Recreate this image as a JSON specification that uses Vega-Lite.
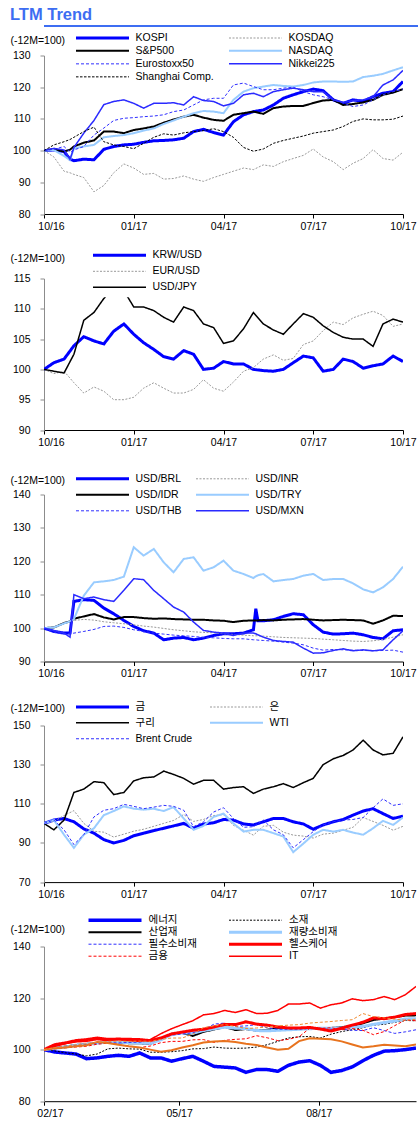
{
"$schema":"https://vega.github.io/schema/vega-lite/v6.json",
"background":"white",
"padding":{"left":10,"top":6,"right":0,"bottom":0},
"title":{"text":"LTM Trend","anchor":"start","color":"#3d6df2","font":"Liberation Sans","fontSize":16.5,"fontWeight":"bold","offset":2},
"config":{
"font":"Liberation Sans",
"view":{"stroke":null},
"axis":{"grid":false,"labelFont":"Liberation Sans","labelFontSize":10.5,"labelColor":"#000000","tickSize":4,"titleFont":"Liberation Sans","titleFontSize":10.5,"titleFontWeight":"normal","titleColor":"#000000"},
"axisX":{"domainColor":"#000000","tickColor":"#000000","labelPadding":3,"labelOverlap":false,"labelFlush":false},
"axisY":{"domainColor":"#8c8c8c","tickColor":"#8c8c8c","labelPadding":10,"titleAngle":0,"titleAlign":"left","titleBaseline":"middle","titleX":-34},
"legend":{"orient":"none","symbolType":"stroke","symbolSize":2809,"labelFont":"Liberation Sans, Noto Sans CJK KR","labelFontSize":10.5,"labelColor":"#000000","labelOffset":5,"rowPadding":0,"padding":0,"labelLimit":300}
},
"datasets":{
"p1":[
{"m":0,"KOSPI":100,"KOSDAQ":100,"S&P500":100,"NASDAQ":100,"Eurostoxx50":100,"Nikkei225":100,"Shanghai Comp":100},
{"m":0.33,"KOSPI":100.2,"KOSDAQ":98,"S&P500":100.4,"NASDAQ":100.2,"Eurostoxx50":100.4,"Nikkei225":100.7,"Shanghai Comp":101.8},
{"m":0.67,"KOSPI":99.7,"KOSDAQ":93.5,"S&P500":99.7,"NASDAQ":98.3,"Eurostoxx50":101.3,"Nikkei225":100.2,"Shanghai Comp":102.8},
{"m":0.87,"KOSPI":97.3,"KOSDAQ":93,"S&P500":100.3,"NASDAQ":97,"Eurostoxx50":99.5,"Nikkei225":97.2,"Shanghai Comp":103.5},
{"m":1,"KOSPI":96.8,"KOSDAQ":92.5,"S&P500":101.3,"NASDAQ":100.7,"Eurostoxx50":100.2,"Nikkei225":101,"Shanghai Comp":104.2},
{"m":1.33,"KOSPI":97.3,"KOSDAQ":91.5,"S&P500":102.5,"NASDAQ":101.3,"Eurostoxx50":101.3,"Nikkei225":105.5,"Shanghai Comp":106},
{"m":1.67,"KOSPI":97.1,"KOSDAQ":87,"S&P500":103.2,"NASDAQ":101.8,"Eurostoxx50":104.9,"Nikkei225":109.5,"Shanghai Comp":107.4},
{"m":2,"KOSPI":100.4,"KOSDAQ":89,"S&P500":106,"NASDAQ":104.2,"Eurostoxx50":107.1,"Nikkei225":114.5,"Shanghai Comp":102.8},
{"m":2.33,"KOSPI":101.3,"KOSDAQ":93,"S&P500":106,"NASDAQ":104.6,"Eurostoxx50":109.5,"Nikkei225":115.5,"Shanghai Comp":101.8},
{"m":2.67,"KOSPI":101.8,"KOSDAQ":95.8,"S&P500":105.5,"NASDAQ":104.9,"Eurostoxx50":110.2,"Nikkei225":116,"Shanghai Comp":101.3},
{"m":3,"KOSPI":102,"KOSDAQ":94.5,"S&P500":106.5,"NASDAQ":105.5,"Eurostoxx50":110.4,"Nikkei225":114.9,"Shanghai Comp":100.6},
{"m":3.33,"KOSPI":102.6,"KOSDAQ":92.5,"S&P500":107,"NASDAQ":106.3,"Eurostoxx50":110.7,"Nikkei225":113.4,"Shanghai Comp":102.3},
{"m":3.67,"KOSPI":103.1,"KOSDAQ":92.8,"S&P500":107.6,"NASDAQ":107,"Eurostoxx50":110.9,"Nikkei225":114.9,"Shanghai Comp":104.2},
{"m":4,"KOSPI":103.2,"KOSDAQ":91,"S&P500":108.8,"NASDAQ":108.4,"Eurostoxx50":111.3,"Nikkei225":114.9,"Shanghai Comp":105.3},
{"m":4.33,"KOSPI":103.4,"KOSDAQ":91.2,"S&P500":109.8,"NASDAQ":109.5,"Eurostoxx50":112.3,"Nikkei225":115.1,"Shanghai Comp":104.9},
{"m":4.67,"KOSPI":103.9,"KOSDAQ":92,"S&P500":110.7,"NASDAQ":110.7,"Eurostoxx50":112.8,"Nikkei225":114.4,"Shanghai Comp":105.6},
{"m":5,"KOSPI":106,"KOSDAQ":91,"S&P500":111.3,"NASDAQ":111.8,"Eurostoxx50":114.4,"Nikkei225":117,"Shanghai Comp":106},
{"m":5.33,"KOSPI":106.7,"KOSDAQ":90.3,"S&P500":110.4,"NASDAQ":112.5,"Eurostoxx50":116,"Nikkei225":115.8,"Shanghai Comp":106.3},
{"m":5.67,"KOSPI":105.7,"KOSDAQ":91.5,"S&P500":109.7,"NASDAQ":112.3,"Eurostoxx50":116.5,"Nikkei225":115.5,"Shanghai Comp":106.9},
{"m":6,"KOSPI":104.9,"KOSDAQ":92.5,"S&P500":109.4,"NASDAQ":111.8,"Eurostoxx50":116.5,"Nikkei225":114.1,"Shanghai Comp":106},
{"m":6.33,"KOSPI":109.1,"KOSDAQ":93.5,"S&P500":111.3,"NASDAQ":116,"Eurostoxx50":120.7,"Nikkei225":114.9,"Shanghai Comp":104.2},
{"m":6.67,"KOSPI":111.3,"KOSDAQ":94.5,"S&P500":111.8,"NASDAQ":118.6,"Eurostoxx50":121.3,"Nikkei225":117.6,"Shanghai Comp":101},
{"m":7,"KOSPI":112.3,"KOSDAQ":94,"S&P500":112.3,"NASDAQ":119.7,"Eurostoxx50":120.2,"Nikkei225":118.1,"Shanghai Comp":99.8},
{"m":7.33,"KOSPI":112.8,"KOSDAQ":95.5,"S&P500":111.6,"NASDAQ":120.2,"Eurostoxx50":119.2,"Nikkei225":117,"Shanghai Comp":100.5},
{"m":7.67,"KOSPI":114.4,"KOSDAQ":95,"S&P500":113.4,"NASDAQ":120.7,"Eurostoxx50":119.2,"Nikkei225":118.6,"Shanghai Comp":102.3},
{"m":8,"KOSPI":116.5,"KOSDAQ":96.5,"S&P500":113.9,"NASDAQ":120.4,"Eurostoxx50":119.7,"Nikkei225":119.2,"Shanghai Comp":103.2},
{"m":8.33,"KOSPI":117.6,"KOSDAQ":97.5,"S&P500":114.1,"NASDAQ":120.2,"Eurostoxx50":120,"Nikkei225":119.7,"Shanghai Comp":103.9},
{"m":8.67,"KOSPI":118.6,"KOSDAQ":98.5,"S&P500":114.1,"NASDAQ":120.7,"Eurostoxx50":118.6,"Nikkei225":119.2,"Shanghai Comp":104.6},
{"m":9,"KOSPI":119.4,"KOSDAQ":100.5,"S&P500":115,"NASDAQ":121.5,"Eurostoxx50":117.6,"Nikkei225":118.6,"Shanghai Comp":105.5},
{"m":9.33,"KOSPI":118.9,"KOSDAQ":98,"S&P500":115.8,"NASDAQ":121.8,"Eurostoxx50":117,"Nikkei225":118.6,"Shanghai Comp":106},
{"m":9.67,"KOSPI":116,"KOSDAQ":96.5,"S&P500":116,"NASDAQ":121.8,"Eurostoxx50":116,"Nikkei225":116,"Shanghai Comp":106.5},
{"m":10,"KOSPI":114.9,"KOSDAQ":94,"S&P500":114.4,"NASDAQ":121.7,"Eurostoxx50":115,"Nikkei225":115.2,"Shanghai Comp":107.6},
{"m":10.33,"KOSPI":116,"KOSDAQ":96,"S&P500":114.7,"NASDAQ":121.8,"Eurostoxx50":113.9,"Nikkei225":115.8,"Shanghai Comp":109.2},
{"m":10.67,"KOSPI":115.5,"KOSDAQ":97.5,"S&P500":115.2,"NASDAQ":123.2,"Eurostoxx50":114.4,"Nikkei225":116,"Shanghai Comp":110},
{"m":11,"KOSPI":117,"KOSDAQ":100.3,"S&P500":116,"NASDAQ":123.6,"Eurostoxx50":116,"Nikkei225":117,"Shanghai Comp":109.7},
{"m":11.33,"KOSPI":118.1,"KOSDAQ":97.5,"S&P500":117.6,"NASDAQ":124.2,"Eurostoxx50":117.6,"Nikkei225":120.7,"Shanghai Comp":109.7},
{"m":11.67,"KOSPI":118.6,"KOSDAQ":97,"S&P500":118.3,"NASDAQ":125.3,"Eurostoxx50":118.6,"Nikkei225":122.3,"Shanghai Comp":109.9},
{"m":12,"KOSPI":121.8,"KOSDAQ":99.5,"S&P500":119.4,"NASDAQ":126.3,"Eurostoxx50":119.4,"Nikkei225":125.3,"Shanghai Comp":110.9}
],
"p2":[
{"m":0,"KRW/USD":100,"EUR/USD":100,"USD/JPY":100},
{"m":0.33,"KRW/USD":101.1,"EUR/USD":99.3,"USD/JPY":99.7},
{"m":0.67,"KRW/USD":101.7,"EUR/USD":99.7,"USD/JPY":99.4},
{"m":1,"KRW/USD":103.9,"EUR/USD":97.8,"USD/JPY":102.5},
{"m":1.33,"KRW/USD":105.4,"EUR/USD":96.1,"USD/JPY":108.1},
{"m":1.67,"KRW/USD":104.7,"EUR/USD":97.1,"USD/JPY":109.4},
{"m":2,"KRW/USD":104.2,"EUR/USD":96.4,"USD/JPY":111.7},
{"m":2.33,"KRW/USD":106.3,"EUR/USD":95,"USD/JPY":113.6},
{"m":2.67,"KRW/USD":107.5,"EUR/USD":95,"USD/JPY":113},
{"m":3,"KRW/USD":105.8,"EUR/USD":95.4,"USD/JPY":110.3},
{"m":3.33,"KRW/USD":104.4,"EUR/USD":96.9,"USD/JPY":110.3},
{"m":3.67,"KRW/USD":103.3,"EUR/USD":97.8,"USD/JPY":109.7},
{"m":4,"KRW/USD":102.1,"EUR/USD":96.9,"USD/JPY":108.6},
{"m":4.33,"KRW/USD":101.7,"EUR/USD":96.1,"USD/JPY":107.8},
{"m":4.67,"KRW/USD":103.1,"EUR/USD":96.1,"USD/JPY":110.3},
{"m":5,"KRW/USD":102.5,"EUR/USD":96.7,"USD/JPY":109.7},
{"m":5.33,"KRW/USD":100,"EUR/USD":98.3,"USD/JPY":107.5},
{"m":5.67,"KRW/USD":100.2,"EUR/USD":96.9,"USD/JPY":106.9},
{"m":6,"KRW/USD":101.3,"EUR/USD":96.4,"USD/JPY":104.3},
{"m":6.33,"KRW/USD":100.9,"EUR/USD":97.9,"USD/JPY":104.7},
{"m":6.67,"KRW/USD":100.9,"EUR/USD":99.7,"USD/JPY":106.7},
{"m":7,"KRW/USD":100,"EUR/USD":100.3,"USD/JPY":109.4},
{"m":7.33,"KRW/USD":99.8,"EUR/USD":101.7,"USD/JPY":107.5},
{"m":7.67,"KRW/USD":99.7,"EUR/USD":102.4,"USD/JPY":106.5},
{"m":8,"KRW/USD":100,"EUR/USD":101.5,"USD/JPY":105.8},
{"m":8.33,"KRW/USD":101.1,"EUR/USD":101.8,"USD/JPY":107.5},
{"m":8.67,"KRW/USD":102.2,"EUR/USD":104.1,"USD/JPY":109.2},
{"m":9,"KRW/USD":101.9,"EUR/USD":104.7,"USD/JPY":108.6},
{"m":9.33,"KRW/USD":99.7,"EUR/USD":106.4,"USD/JPY":107.2},
{"m":9.67,"KRW/USD":100,"EUR/USD":107.8,"USD/JPY":106.1},
{"m":10,"KRW/USD":101.7,"EUR/USD":107.4,"USD/JPY":105.3},
{"m":10.33,"KRW/USD":101.3,"EUR/USD":108.5,"USD/JPY":105},
{"m":10.67,"KRW/USD":100.2,"EUR/USD":109.1,"USD/JPY":105},
{"m":11,"KRW/USD":100.6,"EUR/USD":109.6,"USD/JPY":103.8},
{"m":11.33,"KRW/USD":100.9,"EUR/USD":108.9,"USD/JPY":107.5},
{"m":11.67,"KRW/USD":102.2,"EUR/USD":107.1,"USD/JPY":108.3},
{"m":12,"KRW/USD":101.3,"EUR/USD":107.5,"USD/JPY":107.8}
],
"p3":[
{"m":0,"USD/BRL":100,"USD/INR":100,"USD/IDR":100,"USD/TRY":100,"USD/THB":100,"USD/MXN":100},
{"m":0.33,"USD/BRL":99,"USD/INR":100.3,"USD/IDR":100.2,"USD/TRY":100.2,"USD/THB":98.8,"USD/MXN":99.3},
{"m":0.67,"USD/BRL":98.5,"USD/INR":101.5,"USD/IDR":101.5,"USD/TRY":101.4,"USD/THB":98.3,"USD/MXN":98.5},
{"m":0.87,"USD/BRL":98.5,"USD/INR":101.9,"USD/IDR":102,"USD/TRY":102,"USD/THB":98.3,"USD/MXN":97.3},
{"m":1,"USD/BRL":108,"USD/INR":102.3,"USD/IDR":102.8,"USD/TRY":102.7,"USD/THB":98.5,"USD/MXN":110},
{"m":1.33,"USD/BRL":108.5,"USD/INR":102.6,"USD/IDR":103.5,"USD/TRY":109.7,"USD/THB":99,"USD/MXN":108.8},
{"m":1.67,"USD/BRL":108.3,"USD/INR":102.4,"USD/IDR":104.2,"USD/TRY":113.7,"USD/THB":99.6,"USD/MXN":109.3},
{"m":2,"USD/BRL":106,"USD/INR":101.9,"USD/IDR":103.2,"USD/TRY":114,"USD/THB":100.5,"USD/MXN":108.5},
{"m":2.33,"USD/BRL":104.3,"USD/INR":101.6,"USD/IDR":102.6,"USD/TRY":114.4,"USD/THB":100.6,"USD/MXN":108},
{"m":2.67,"USD/BRL":102.3,"USD/INR":101.3,"USD/IDR":103.3,"USD/TRY":115.4,"USD/THB":100.2,"USD/MXN":111.3},
{"m":3,"USD/BRL":100.5,"USD/INR":101,"USD/IDR":103.3,"USD/TRY":124.2,"USD/THB":99.5,"USD/MXN":114.8},
{"m":3.33,"USD/BRL":99.2,"USD/INR":100.6,"USD/IDR":103,"USD/TRY":121.7,"USD/THB":99,"USD/MXN":114.5},
{"m":3.67,"USD/BRL":98.5,"USD/INR":100.3,"USD/IDR":102.8,"USD/TRY":123.7,"USD/THB":98.5,"USD/MXN":111.3},
{"m":4,"USD/BRL":96.5,"USD/INR":99.9,"USD/IDR":102.9,"USD/TRY":119.7,"USD/THB":98.2,"USD/MXN":108.8},
{"m":4.33,"USD/BRL":97,"USD/INR":99.5,"USD/IDR":102.7,"USD/TRY":116.7,"USD/THB":97.9,"USD/MXN":106.3},
{"m":4.67,"USD/BRL":97.2,"USD/INR":99.2,"USD/IDR":102.6,"USD/TRY":120.7,"USD/THB":97.7,"USD/MXN":104.8},
{"m":5,"USD/BRL":96.5,"USD/INR":98.9,"USD/IDR":102.5,"USD/TRY":121.2,"USD/THB":97.5,"USD/MXN":101.8},
{"m":5.33,"USD/BRL":97,"USD/INR":98.7,"USD/IDR":102.5,"USD/TRY":117.2,"USD/THB":97.2,"USD/MXN":99.3},
{"m":5.67,"USD/BRL":97.8,"USD/INR":98.6,"USD/IDR":102.3,"USD/TRY":118.2,"USD/THB":97.1,"USD/MXN":98.8},
{"m":6,"USD/BRL":98.3,"USD/INR":98.3,"USD/IDR":102.2,"USD/TRY":120.2,"USD/THB":96.9,"USD/MXN":98.5},
{"m":6.33,"USD/BRL":98.3,"USD/INR":98.1,"USD/IDR":101.8,"USD/TRY":117.2,"USD/THB":96.8,"USD/MXN":97.8},
{"m":6.67,"USD/BRL":98.5,"USD/INR":97.9,"USD/IDR":102.2,"USD/TRY":116.2,"USD/THB":96.8,"USD/MXN":98.5},
{"m":7,"USD/BRL":99.5,"USD/INR":97.7,"USD/IDR":102.3,"USD/TRY":115,"USD/THB":96.5,"USD/MXN":98.5},
{"m":7.08,"USD/BRL":105.8,"USD/INR":97.7,"USD/IDR":102.3,"USD/TRY":115.5,"USD/THB":96.5,"USD/MXN":98.3},
{"m":7.15,"USD/BRL":102.2,"USD/INR":97.7,"USD/IDR":102.3,"USD/TRY":115.8,"USD/THB":96.4,"USD/MXN":98},
{"m":7.33,"USD/BRL":102.2,"USD/INR":97.6,"USD/IDR":102.4,"USD/TRY":116.2,"USD/THB":96.3,"USD/MXN":97.3},
{"m":7.67,"USD/BRL":102.5,"USD/INR":97.4,"USD/IDR":102.3,"USD/TRY":114,"USD/THB":96.1,"USD/MXN":96.3},
{"m":8,"USD/BRL":103.5,"USD/INR":97.2,"USD/IDR":102.5,"USD/TRY":114.4,"USD/THB":95.8,"USD/MXN":96},
{"m":8.33,"USD/BRL":104.3,"USD/INR":97.1,"USD/IDR":102.6,"USD/TRY":114.7,"USD/THB":95.5,"USD/MXN":95.8},
{"m":8.67,"USD/BRL":104,"USD/INR":97,"USD/IDR":102.7,"USD/TRY":115.7,"USD/THB":95,"USD/MXN":94},
{"m":9,"USD/BRL":101,"USD/INR":96.9,"USD/IDR":102.5,"USD/TRY":116.2,"USD/THB":94,"USD/MXN":92.5},
{"m":9.33,"USD/BRL":98.8,"USD/INR":96.7,"USD/IDR":102.3,"USD/TRY":114.4,"USD/THB":93.4,"USD/MXN":92.6},
{"m":9.67,"USD/BRL":98.2,"USD/INR":96.5,"USD/IDR":102.4,"USD/TRY":114.7,"USD/THB":93.6,"USD/MXN":93.3},
{"m":10,"USD/BRL":98.3,"USD/INR":96.3,"USD/IDR":102.5,"USD/TRY":114.7,"USD/THB":93.5,"USD/MXN":93.8},
{"m":10.33,"USD/BRL":98.5,"USD/INR":96.1,"USD/IDR":102.4,"USD/TRY":113.4,"USD/THB":93.4,"USD/MXN":93.2},
{"m":10.67,"USD/BRL":98,"USD/INR":96,"USD/IDR":102.3,"USD/TRY":111.6,"USD/THB":93.3,"USD/MXN":93.5},
{"m":11,"USD/BRL":97.2,"USD/INR":96.2,"USD/IDR":101.3,"USD/TRY":110.7,"USD/THB":93.2,"USD/MXN":93.2},
{"m":11.33,"USD/BRL":96.8,"USD/INR":96.6,"USD/IDR":102.3,"USD/TRY":112.2,"USD/THB":93.3,"USD/MXN":93.5},
{"m":11.67,"USD/BRL":99.2,"USD/INR":97.3,"USD/IDR":103.7,"USD/TRY":114.7,"USD/THB":93.4,"USD/MXN":96.5},
{"m":12,"USD/BRL":99.5,"USD/INR":98,"USD/IDR":103.6,"USD/TRY":118.4,"USD/THB":92.8,"USD/MXN":99.2}
],
"p4":[
{"m":0,"금":100,"은":100,"구리":100,"WTI":100,"Brent Crude":100},
{"m":0.33,"금":101.7,"은":101,"구리":96.7,"WTI":101.7,"Brent Crude":101.7},
{"m":0.67,"금":102.5,"은":104,"구리":101.7,"WTI":94.2,"Brent Crude":96.7},
{"m":1,"금":100.8,"은":106.5,"구리":115.8,"WTI":87.5,"Brent Crude":89.2},
{"m":1.33,"금":97.2,"은":100,"구리":117.5,"WTI":94.2,"Brent Crude":94.2},
{"m":1.67,"금":95,"은":96,"구리":121.3,"WTI":97.5,"Brent Crude":103.3},
{"m":2,"금":91.7,"은":95.5,"구리":120.8,"WTI":104.2,"Brent Crude":106.7},
{"m":2.33,"금":90,"은":93,"구리":114.7,"WTI":106.3,"Brent Crude":107.5},
{"m":2.67,"금":91.3,"은":94.5,"구리":115.8,"WTI":108.7,"Brent Crude":109.7},
{"m":3,"금":93.7,"은":96,"구리":121.7,"WTI":107.5,"Brent Crude":108.7},
{"m":3.33,"금":95,"은":97,"구리":123.3,"WTI":107,"Brent Crude":107.5},
{"m":3.67,"금":96.3,"은":98.5,"구리":123.7,"WTI":107.5,"Brent Crude":108.3},
{"m":4,"금":97.5,"은":100,"구리":126.7,"WTI":106.3,"Brent Crude":109.2},
{"m":4.33,"금":98.7,"은":101.5,"구리":125,"WTI":108.3,"Brent Crude":108.7},
{"m":4.67,"금":100,"은":104.5,"구리":123,"WTI":102.5,"Brent Crude":106.7},
{"m":5,"금":97.5,"은":101,"구리":120,"WTI":96.7,"Brent Crude":98.3},
{"m":5.33,"금":99.7,"은":102,"구리":122,"WTI":98.7,"Brent Crude":100.8},
{"m":5.67,"금":100.3,"은":104,"구리":122,"WTI":103.3,"Brent Crude":105.8},
{"m":6,"금":102,"은":104.5,"구리":117.5,"WTI":105,"Brent Crude":108},
{"m":6.33,"금":101.7,"은":99,"구리":118.3,"WTI":100,"Brent Crude":102.5},
{"m":6.67,"금":99.7,"은":96.5,"구리":118.7,"WTI":95.8,"Brent Crude":98},
{"m":7,"금":99.2,"은":94,"구리":115.3,"WTI":96.7,"Brent Crude":98.3},
{"m":7.33,"금":100.8,"은":98.5,"구리":117.5,"WTI":96.7,"Brent Crude":101.7},
{"m":7.67,"금":102.5,"은":99,"구리":118.7,"WTI":95,"Brent Crude":96.7},
{"m":8,"금":102.5,"은":95.5,"구리":120.3,"WTI":93.3,"Brent Crude":94.2},
{"m":8.33,"금":100.8,"은":94,"구리":118.3,"WTI":85.3,"Brent Crude":87.5},
{"m":8.67,"금":99.7,"은":93.5,"구리":120.8,"WTI":89.7,"Brent Crude":91.7},
{"m":9,"금":97,"은":92.5,"구리":123,"WTI":94.2,"Brent Crude":95.8},
{"m":9.33,"금":99.2,"은":94.5,"구리":130,"WTI":96.7,"Brent Crude":99.2},
{"m":9.67,"금":100.8,"은":95,"구리":133,"WTI":95.8,"Brent Crude":100.8},
{"m":10,"금":102,"은":96.5,"구리":134.7,"WTI":96.7,"Brent Crude":101.7},
{"m":10.33,"금":104.2,"은":98,"구리":137.5,"WTI":95.3,"Brent Crude":102},
{"m":10.67,"금":106.3,"은":103,"구리":142.5,"WTI":94.2,"Brent Crude":103},
{"m":11,"금":107.5,"은":101,"구리":137.5,"WTI":97.5,"Brent Crude":108},
{"m":11.33,"금":105,"은":99,"구리":135,"WTI":101.3,"Brent Crude":112.5},
{"m":11.67,"금":102.5,"은":96.5,"구리":135.8,"WTI":99.2,"Brent Crude":109.2},
{"m":12,"금":103.7,"은":98.5,"구리":144.2,"WTI":103,"Brent Crude":110}
],
"p5":[
{"d":0,"에너지":100,"소재":100,"산업재":100,"재량소비재":100,"필수소비재":100,"헬스케어":100,"금용":100,"IT":100,"통신서비스":100,"유틸리티":100},
{"d":7,"에너지":99.1,"소재":99.5,"산업재":100.6,"재량소비재":100.5,"필수소비재":100.8,"헬스케어":101.9,"금용":100.3,"IT":101.2,"통신서비스":100.5,"유틸리티":100.8},
{"d":14,"에너지":98.7,"소재":98.8,"산업재":101.2,"재량소비재":101,"필수소비재":101.2,"헬스케어":102.6,"금용":100.7,"IT":102.3,"통신서비스":100.8,"유틸리티":101.3},
{"d":21,"에너지":98.3,"소재":98.3,"산업재":101.8,"재량소비재":101.7,"필수소비재":101.7,"헬스케어":103.5,"금용":101,"IT":103,"통신서비스":101.3,"유틸리티":101.9},
{"d":28,"에너지":96.5,"소재":97.6,"산업재":102.2,"재량소비재":102,"필수소비재":102,"헬스케어":103.9,"금용":101.3,"IT":103.2,"통신서비스":101.7,"유틸리티":102.3},
{"d":35,"에너지":96.8,"소재":98.3,"산업재":102.6,"재량소비재":102.5,"필수소비재":102.5,"헬스케어":104.5,"금용":102.1,"IT":103.9,"통신서비스":103,"유틸리티":102.8},
{"d":42,"에너지":97.4,"소재":100.3,"산업재":103,"재량소비재":103,"필수소비재":102.7,"헬스케어":104,"금용":102.5,"IT":103.5,"통신서비스":102.6,"유틸리티":103.2},
{"d":49,"에너지":97.8,"소재":100.6,"산업재":102.8,"재량소비재":102.9,"필수소비재":102.6,"헬스케어":104.1,"금용":102.1,"IT":103.9,"통신서비스":101.9,"유틸리티":103.3},
{"d":56,"에너지":97.4,"소재":100.3,"산업재":102.5,"재량소비재":102.7,"필수소비재":102.8,"헬스케어":104,"금용":101.2,"IT":103.5,"통신서비스":101.3,"유틸리티":103.2},
{"d":63,"에너지":98.7,"소재":100.2,"산업재":102.5,"재량소비재":102.6,"필수소비재":102.9,"헬스케어":103.9,"금용":100.8,"IT":103.2,"통신서비스":100.8,"유틸리티":103.3},
{"d":70,"에너지":96.8,"소재":99,"산업재":102.2,"재량소비재":102.4,"필수소비재":103.4,"헬스케어":103.5,"금용":101.4,"IT":103.9,"통신서비스":100,"유틸리티":103.2},
{"d":77,"에너지":96.8,"소재":99,"산업재":104.2,"재량소비재":103.8,"필수소비재":104.4,"헬스케어":104.5,"금용":102.7,"IT":106.2,"통신서비스":99.2,"유틸리티":104},
{"d":84,"에너지":95.5,"소재":99.2,"산업재":106.1,"재량소비재":105.9,"필수소비재":105.6,"헬스케어":106.1,"금용":103.2,"IT":108.1,"통신서비스":99.8,"유틸리티":104.5},
{"d":91,"에너지":96.5,"소재":99.6,"산업재":106.5,"재량소비재":106.5,"필수소비재":106.1,"헬스케어":106.8,"금용":103.2,"IT":109.7,"통신서비스":100.8,"유틸리티":104.5},
{"d":98,"에너지":97.4,"소재":100.3,"산업재":105.3,"재량소비재":106.4,"필수소비재":106.5,"헬스케어":107.5,"금용":103.8,"IT":111.2,"통신서비스":101.7,"유틸리티":106},
{"d":105,"에너지":95.5,"소재":100.4,"산업재":106.9,"재량소비재":107.4,"필수소비재":107.7,"헬스케어":107.9,"금용":103.9,"IT":113.5,"통신서비스":102.8,"유틸리티":108.5},
{"d":112,"에너지":93.5,"소재":101,"산업재":107.8,"재량소비재":108.1,"필수소비재":109.9,"헬스케어":108.8,"금용":102.8,"IT":114,"통신서비스":103.2,"유틸리티":109.2},
{"d":119,"에너지":93.2,"소재":100.6,"산업재":108.8,"재량소비재":108.7,"필수소비재":110.3,"헬스케어":109.8,"금용":103.6,"IT":115.2,"통신서비스":103.3,"유틸리티":109.7},
{"d":126,"에너지":92.9,"소재":100.5,"산업재":107.6,"재량소비재":108.3,"필수소비재":109,"헬스케어":109.7,"금용":104,"IT":114.4,"통신서비스":103,"유틸리티":109},
{"d":133,"에너지":91.2,"소재":100.6,"산업재":108,"재량소비재":108.2,"필수소비재":109.2,"헬스케어":110.8,"금용":104.2,"IT":115.5,"통신서비스":102.3,"유틸리티":108.2},
{"d":140,"에너지":92.3,"소재":101,"산업재":107.4,"재량소비재":107.4,"필수소비재":109.7,"헬스케어":109.9,"금용":105.4,"IT":114,"통신서비스":101.8,"유틸리티":108.4},
{"d":147,"에너지":92.3,"소재":101.9,"산업재":107.7,"재량소비재":107.3,"필수소비재":108.5,"헬스케어":109.5,"금용":104.6,"IT":114.1,"통신서비스":100.8,"유틸리티":108.8},
{"d":154,"에너지":91.6,"소재":103.2,"산업재":108.3,"재량소비재":107.5,"필수소비재":107.9,"헬스케어":108.8,"금용":103.5,"IT":115.2,"통신서비스":100,"유틸리티":109.2},
{"d":161,"에너지":93.9,"소재":104.5,"산업재":108.1,"재량소비재":107.7,"필수소비재":107.9,"헬스케어":108.4,"금용":104,"IT":117.7,"통신서비스":100.3,"유틸리티":109.5},
{"d":168,"에너지":95.2,"소재":105,"산업재":108.2,"재량소비재":107.9,"필수소비재":107.9,"헬스케어":108.4,"금용":105,"IT":117.7,"통신서비스":103.3,"유틸리티":109.7},
{"d":175,"에너지":95.7,"소재":105.1,"산업재":108.4,"재량소비재":108.1,"필수소비재":108.2,"헬스케어":108.6,"금용":108.3,"IT":118.1,"통신서비스":104.4,"유틸리티":110.3},
{"d":182,"에너지":93.9,"소재":104.5,"산업재":108.2,"재량소비재":108.3,"필수소비재":108,"헬스케어":108,"금용":108.2,"IT":116.1,"통신서비스":104.2,"유틸리티":110.6},
{"d":189,"에너지":91.2,"소재":106,"산업재":108.4,"재량소비재":108.3,"필수소비재":107.9,"헬스케어":107.2,"금용":108.5,"IT":117.4,"통신서비스":104,"유틸리티":110.9},
{"d":196,"에너지":91.9,"소재":107,"산업재":108.7,"재량소비재":108.4,"필수소비재":107.9,"헬스케어":108.3,"금용":107.7,"IT":118.1,"통신서비스":103.2,"유틸리티":111.3},
{"d":203,"에너지":93.3,"소재":107.7,"산업재":109.2,"재량소비재":108.7,"필수소비재":107.5,"헬스케어":109.5,"금용":108.2,"IT":119.7,"통신서비스":102,"유틸리티":111.6},
{"d":210,"에너지":95.7,"소재":108.5,"산업재":110.2,"재량소비재":109,"필수소비재":107.4,"헬스케어":110.6,"금용":107.5,"IT":119,"통신서비스":100.8,"유틸리티":114},
{"d":217,"에너지":97.8,"소재":109.5,"산업재":111.5,"재량소비재":109.8,"필수소비재":108.5,"헬스케어":112.3,"금용":105.8,"IT":119.4,"통신서비스":101.3,"유틸리티":112.8},
{"d":224,"에너지":99.4,"소재":109.8,"산업재":112,"재량소비재":110.5,"필수소비재":107.4,"헬스케어":112,"금용":107,"IT":120.6,"통신서비스":101.9,"유틸리티":112.3},
{"d":231,"에너지":99.6,"소재":110.6,"산업재":112.6,"재량소비재":111.1,"필수소비재":106.3,"헬스케어":112.6,"금용":109.3,"IT":119.4,"통신서비스":101.6,"유틸리티":111.8},
{"d":238,"에너지":100,"소재":111.3,"산업재":113.2,"재량소비재":111.9,"필수소비재":106.9,"헬스케어":113.6,"금용":111.5,"IT":121.3,"통신서비스":101.3,"유틸리티":111.4},
{"d":245,"에너지":100.6,"소재":111.2,"산업재":113.3,"재량소비재":112,"필수소비재":107.7,"헬스케어":114,"금용":111.2,"IT":124.5,"통신서비스":102,"유틸리티":111.8}
]
},
"concat":[
{
"width":408,"height":1,
"data":{"values":[{"y":0}]},
"mark":{"type":"rule","color":"#3d6df2","strokeWidth":2},
"encoding":{"y":{"field":"y","type":"quantitative","scale":{"domain":[0,1]},"axis":null}}
},
{
"vconcat":[
{
"width":359,"height":158.5,
"data":{"name":"p1"},
"transform":[{"fold":["KOSPI","KOSDAQ","S&P500","NASDAQ","Eurostoxx50","Nikkei225","Shanghai Comp"],"as":["series","value"]}],
"mark":{"type":"line","clip":true},
"encoding":{
"x":{"field":"m","type":"quantitative","title":null,"scale":{"domain":[0,12],"nice":false,"zero":false},"axis":{"values":[0,3,6,9,12],"labelExpr":"['10/16','01/17','04/17','07/17','10/17'][round(datum.value/3)]","labelOffset":{"condition":{"test":"datum.value == 0","value":7},"value":0}}},
"y":{"field":"value","type":"quantitative","title":"(-12M=100)","scale":{"domain":[80,130],"nice":false,"zero":false},"axis":{"values":[80,90,100,110,120,130],"titleY":-15}},
"color":{"field":"series","type":"nominal","scale":{"domain":["KOSPI","KOSDAQ","S&P500","NASDAQ","Eurostoxx50","Nikkei225","Shanghai Comp"],"range":["#0000ff","#999999","#000000","#99ccff","#2f2fff","#2a2aff","#000000"]},"legend":{"title":null,"direction":"horizontal","columns":2,"columnPadding":13,"legendX":30.5,"legendY":-24,"clipHeight":12.7,"labelExpr":"datum.label == 'Shanghai Comp' ? 'Shanghai Comp.' : datum.label"}},
"strokeDash":{"field":"series","type":"nominal","scale":{"domain":["KOSPI","KOSDAQ","S&P500","NASDAQ","Eurostoxx50","Nikkei225","Shanghai Comp"],"range":[[1,0],[2,1.5],[1,0],[1,0],[3,2],[1,0],[2.5,1.5]]}},
"strokeWidth":{"field":"series","type":"nominal","scale":{"type":"ordinal","domain":["KOSPI","KOSDAQ","S&P500","NASDAQ","Eurostoxx50","Nikkei225","Shanghai Comp"],"range":[3,1,2,2,1,1.5,1]}}
}
},
{
"width":359,"height":151.5,
"data":{"name":"p2"},
"transform":[{"fold":["KRW/USD","EUR/USD","USD/JPY"],"as":["series","value"]}],
"mark":{"type":"line","clip":true},
"encoding":{
"x":{"field":"m","type":"quantitative","title":null,"scale":{"domain":[0,12],"nice":false,"zero":false},"axis":{"values":[0,3,6,9,12],"labelExpr":"['10/16','01/17','04/17','07/17','10/17'][round(datum.value/3)]","labelOffset":{"condition":{"test":"datum.value == 0","value":7},"value":0}}},
"y":{"field":"value","type":"quantitative","title":"(-12M=100)","scale":{"domain":[90,115],"nice":false,"zero":false},"axis":{"values":[90,95,100,105,110,115],"titleY":-20}},
"color":{"field":"series","type":"nominal","scale":{"domain":["KRW/USD","EUR/USD","USD/JPY"],"range":["#0000ff","#999999","#000000"]},"legend":{"title":null,"columns":1,"legendX":45.5,"legendY":-33.2,"clipHeight":16,"padding":2,"fillColor":"white"}},
"strokeDash":{"field":"series","type":"nominal","scale":{"domain":["KRW/USD","EUR/USD","USD/JPY"],"range":[[1,0],[2,1.5],[1,0]]}},
"strokeWidth":{"field":"series","type":"nominal","scale":{"type":"ordinal","domain":["KRW/USD","EUR/USD","USD/JPY"],"range":[3,1,1.5]}}
}
},
{
"width":359,"height":167,
"data":{"name":"p3"},
"transform":[{"fold":["USD/BRL","USD/INR","USD/IDR","USD/TRY","USD/THB","USD/MXN"],"as":["series","value"]}],
"mark":{"type":"line","clip":true},
"encoding":{
"x":{"field":"m","type":"quantitative","title":null,"scale":{"domain":[0,12],"nice":false,"zero":false},"axis":{"values":[0,3,6,9,12],"labelExpr":"['10/16','01/17','04/17','07/17','10/17'][round(datum.value/3)]","labelOffset":{"condition":{"test":"datum.value == 0","value":7},"value":0}}},
"y":{"field":"value","type":"quantitative","title":"(-12M=100)","scale":{"domain":[90,140],"nice":false,"zero":false},"axis":{"values":[90,100,110,120,130,140],"titleY":-14.4}},
"color":{"field":"series","type":"nominal","scale":{"domain":["USD/BRL","USD/INR","USD/IDR","USD/TRY","USD/THB","USD/MXN"],"range":["#0000ff","#999999","#000000","#99ccff","#2f2fff","#2a2aff"]},"legend":{"title":null,"direction":"horizontal","columns":2,"columnPadding":12,"legendX":30.5,"legendY":-23.7,"clipHeight":16}},
"strokeDash":{"field":"series","type":"nominal","scale":{"domain":["USD/BRL","USD/INR","USD/IDR","USD/TRY","USD/THB","USD/MXN"],"range":[[1,0],[2,1.5],[1,0],[1,0],[3,2],[1,0]]}},
"strokeWidth":{"field":"series","type":"nominal","scale":{"type":"ordinal","domain":["USD/BRL","USD/INR","USD/IDR","USD/TRY","USD/THB","USD/MXN"],"range":[3,1,2,2,1,1.5]}}
}
},
{
"width":359,"height":156.6,
"data":{"name":"p4"},
"transform":[{"fold":["금","은","구리","WTI","Brent Crude"],"as":["series","value"]}],
"mark":{"type":"line","clip":true},
"encoding":{
"x":{"field":"m","type":"quantitative","title":null,"scale":{"domain":[0,12],"nice":false,"zero":false},"axis":{"values":[0,3,6,9,12],"labelExpr":"['10/16','01/17','04/17','07/17','10/17'][round(datum.value/3)]","labelOffset":{"condition":{"test":"datum.value == 0","value":7},"value":0}}},
"y":{"field":"value","type":"quantitative","title":"(-12M=100)","scale":{"domain":[70,150],"nice":false,"zero":false},"axis":{"values":[70,90,110,130,150],"titleY":-17}},
"color":{"field":"series","type":"nominal","scale":{"domain":["금","은","구리","WTI","Brent Crude"],"range":["#0000ff","#999999","#000000","#99ccff","#2f2fff"]},"legend":{"title":null,"direction":"horizontal","columns":2,"columnPadding":16,"legendX":30.5,"legendY":-26.5,"clipHeight":15.5}},
"strokeDash":{"field":"series","type":"nominal","scale":{"domain":["금","은","구리","WTI","Brent Crude"],"range":[[1,0],[2,1.5],[1,0],[1,0],[3,2]]}},
"strokeWidth":{"field":"series","type":"nominal","scale":{"type":"ordinal","domain":["금","은","구리","WTI","Brent Crude"],"range":[3,1,1.5,2,1]}}
}
},
{
"width":372,"height":154.7,
"data":{"name":"p5"},
"layer":[
{
"transform":[{"fold":["에너지","소재","산업재","재량소비재","필수소비재","헬스케어","금용","IT"],"as":["series","value"]}],
"mark":{"type":"line","clip":true},
"encoding":{
"x":{"field":"d","type":"quantitative","title":null,"scale":{"domain":[0,245],"nice":false,"zero":false},"axis":{"values":[0,89,181],"labelExpr":"datum.value == 0 ? '02/17' : (datum.value == 89 ? '05/17' : '08/17')","labelOffset":{"condition":{"test":"datum.value == 0","value":6},"value":0}}},
"y":{"field":"value","type":"quantitative","title":"(-12M=100)","scale":{"domain":[80,140],"nice":false,"zero":false},"axis":{"values":[80,90,100,110,120,130,140],"titleY":-17}},
"color":{"field":"series","type":"nominal","scale":{"domain":["에너지","소재","산업재","재량소비재","필수소비재","헬스케어","금용","IT"],"range":["#0000ff","#000000","#000000","#99ccff","#2f2fff","#ff0000","#ff0000","#ff0000"]},"legend":{"title":null,"direction":"horizontal","columns":2,"columnPadding":29.5,"legendX":42.5,"legendY":-32.3,"clipHeight":12}},
"strokeDash":{"field":"series","type":"nominal","scale":{"domain":["에너지","소재","산업재","재량소비재","필수소비재","헬스케어","금용","IT"],"range":[[1,0],[2,1.5],[1,0],[1,0],[3,2],[1,0],[3,2],[1,0]]}},
"strokeWidth":{"field":"series","type":"nominal","scale":{"type":"ordinal","domain":["에너지","소재","산업재","재량소비재","필수소비재","헬스케어","금용","IT"],"range":[3.5,1,2,3,1,3,1,1.5]}}
}
},
{
"mark":{"type":"line","color":"#e8731e","strokeWidth":2,"clip":true},
"encoding":{"x":{"field":"d","type":"quantitative","title":null},"y":{"field":"통신서비스","type":"quantitative","title":"(-12M=100)"}}
},
{
"mark":{"type":"line","color":"#f08a30","strokeWidth":1,"strokeDash":[3,2],"clip":true},
"encoding":{"x":{"field":"d","type":"quantitative","title":null},"y":{"field":"유틸리티","type":"quantitative","title":"(-12M=100)"}}
}
]
}
],
"spacing":64,
"bounds":"flush",
"resolve":{"scale":{"color":"independent","strokeDash":"independent","strokeWidth":"independent"},"legend":{"color":"independent","strokeDash":"independent","strokeWidth":"independent"}}
}
],
"columns":1,
"align":"none",
"spacing":4.5
}
